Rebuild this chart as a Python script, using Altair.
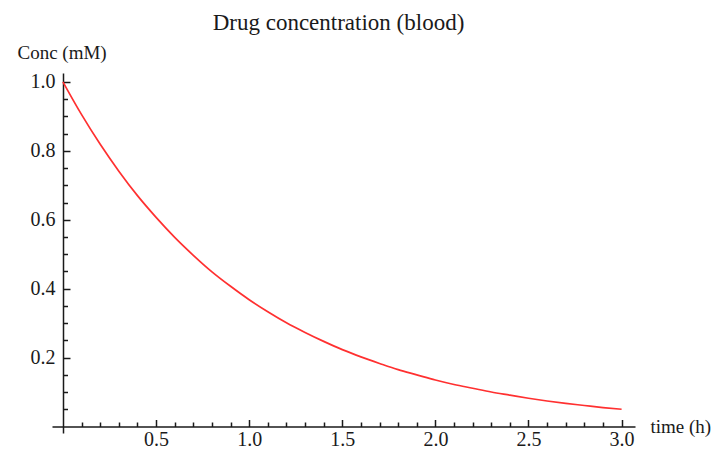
import altair as alt
import pandas as pd

# Data
time_h = [0.0, 0.1, 0.2, 0.3, 0.4, 0.5, 0.6, 0.7, 0.8, 0.9, 1.0,
          1.1, 1.2, 1.3, 1.4, 1.5, 1.6, 1.7, 1.8, 1.9, 2.0,
          2.1, 2.2, 2.3, 2.4, 2.5, 2.6, 2.7, 2.8, 2.9, 3.0]
conc_mM = [1.000, 0.905, 0.819, 0.741, 0.670, 0.607, 0.549, 0.497, 0.449, 0.407, 0.368,
           0.333, 0.301, 0.273, 0.247, 0.223, 0.202, 0.183, 0.165, 0.150, 0.135,
           0.122, 0.111, 0.100, 0.091, 0.082, 0.074, 0.067, 0.061, 0.055, 0.050]

x_major = [0.5, 1.0, 1.5, 2.0, 2.5, 3.0]
x_minor = [0.1, 0.2, 0.3, 0.4, 0.6, 0.7, 0.8, 0.9, 1.1, 1.2, 1.3, 1.4,
           1.6, 1.7, 1.8, 1.9, 2.1, 2.2, 2.3, 2.4, 2.6, 2.7, 2.8, 2.9]
y_major = [0.2, 0.4, 0.6, 0.8, 1.0]
y_minor = [0.05, 0.1, 0.15, 0.25, 0.3, 0.35, 0.45, 0.5, 0.55,
           0.65, 0.7, 0.75, 0.85, 0.9, 0.95]

df = pd.DataFrame({"t": time_h, "c": conc_mM})

W, H = 583, 360
FONT = "Liberation Serif"
INK = "#1a1a1a"

xs = alt.Scale(domain=[-0.059, 3.072], nice=False, zero=False)
ys = alt.Scale(domain=[-0.0189, 1.026], nice=False, zero=False)

x_axis_main = alt.Axis(
    orient="bottom", offset=-6.5, values=x_major, format=".1f",
    ticks=False, tickSize=0, grid=False,
    domainColor=INK, domainWidth=1.5,
    labelFont=FONT, labelFontSize=20, labelColor=INK, labelPadding=3,
    labelBaseline="top",
    title="time (h)", titleFont=FONT, titleFontSize=19, titleFontWeight="normal",
    titleColor=INK, titleAnchor="start", titleAlign="left", titleBaseline="middle",
    titleX=598, titleY=0,
)
y_axis_main = alt.Axis(
    orient="left", offset=-11, values=y_major, format=".1f",
    ticks=False, tickSize=0, grid=False,
    domainColor=INK, domainWidth=1.5,
    labelFont=FONT, labelFontSize=20, labelColor=INK, labelPadding=8,
    title="Conc (mM)", titleFont=FONT, titleFontSize=19, titleFontWeight="normal",
    titleColor=INK, titleAngle=0, titleAlign="left", titleBaseline="alphabetic",
    titleX=-46, titleY=-15,
)

line = alt.Chart(df).mark_line(color="#ff3030", strokeWidth=1.7, interpolate="monotone").encode(
    x=alt.X("t:Q", scale=xs, axis=x_axis_main),
    y=alt.Y("c:Q", scale=ys, axis=y_axis_main),
)

def tick_layer(xvals, yvals, size):
    return alt.Chart(df).mark_point(opacity=0).encode(
        x=alt.X("t:Q", scale=xs, axis=alt.Axis(
            orient="top", offset=-(H - 6.5), values=xvals, labels=False, domain=False,
            grid=False, ticks=True, tickSize=size, tickWidth=1.5, tickColor=INK, title=None)),
        y=alt.Y("c:Q", scale=ys, axis=alt.Axis(
            orient="right", offset=-(W - 11), values=yvals, labels=False, domain=False,
            grid=False, ticks=True, tickSize=size, tickWidth=1.5, tickColor=INK, title=None)),
    )

major = tick_layer(x_major, y_major, 7)
minor = tick_layer(x_minor, y_minor, 4.5)

chart = alt.layer(line, major, minor).resolve_axis(
    x="independent", y="independent"
).properties(
    width=W, height=H,
    title=alt.TitleParams(
        text="Drug concentration (blood)", font=FONT, fontSize=23, fontWeight="normal",
        color=INK, frame="group", anchor="middle", baseline="alphabetic", offset=14,
        dx=-5, dy=24,
    ),
    background="white",
    autosize=alt.AutoSizeParams(type="none"),
    padding={"left": 52, "top": 73, "right": 81, "bottom": 18},
).configure_view(stroke=None)

chart.save("out.html", embed_options={"renderer": "svg", "actions": False})
